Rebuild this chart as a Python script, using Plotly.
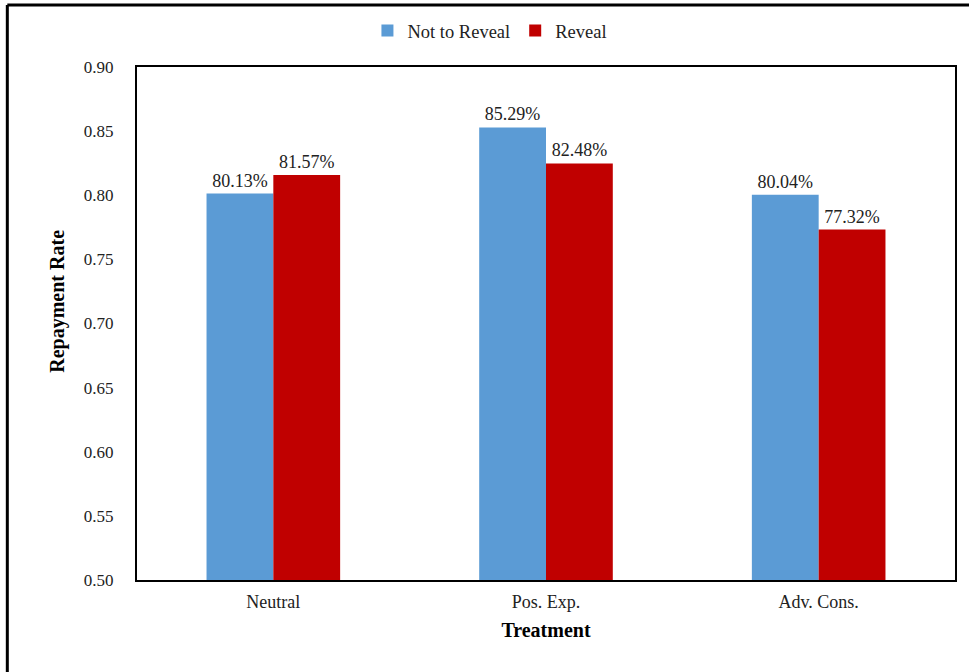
import plotly.graph_objects as go

treatments = ["Neutral", "Pos. Exp.", "Adv. Cons."]
not_reveal = [0.8013, 0.8529, 0.8004]
reveal = [0.8157, 0.8248, 0.7732]
series_names = ["Not to Reveal", "Reveal"]
y_ticks = [0.50, 0.55, 0.60, 0.65, 0.70, 0.75, 0.80, 0.85, 0.90]

FONT = "Liberation Serif"
W, H = 969, 672
ML, MR, MT, MB = 137, 12, 66, 92
PW, PH = W - ML - MR, H - MT - MB


def px_to_paper_x(px):
    return (px - ML) / PW


def px_to_paper_y(py):
    return 1 - (py - MT) / PH


fig = go.Figure()
for name, vals, color in [(series_names[0], not_reveal, "#5B9BD5"),
                          (series_names[1], reveal, "#C00000")]:
    fig.add_trace(go.Bar(
        x=treatments, y=vals, name=name,
        marker=dict(color=color, line=dict(width=0)),
        text=[f"{v * 100:.2f}%" for v in vals],
        textposition="outside",
        textfont=dict(family=FONT, size=18, color="#222"),
        cliponaxis=False,
    ))

fig.update_layout(
    width=W, height=H,
    margin=dict(l=ML, r=MR, t=MT, b=MB),
    paper_bgcolor="white", plot_bgcolor="white",
    barmode="group", bargap=0.51, bargroupgap=0,
    font=dict(family=FONT, size=17, color="#222"),
    legend=dict(
        orientation="h", x=px_to_paper_x(368), xanchor="left",
        y=px_to_paper_y(30), yanchor="middle",
        font=dict(family=FONT, size=18.5, color="#222"),
        itemwidth=30, tracegroupgap=0,
    ),
    xaxis=dict(
        showline=True, linecolor="black", linewidth=2, mirror=True,
        showgrid=False, ticks="", ticklabelstandoff=4,
        title=dict(text="<b>Treatment</b>", font=dict(family=FONT, size=20, color="black"), standoff=12),
        tickfont=dict(family=FONT, size=18, color="#222"),
    ),
    yaxis=dict(
        range=[0.5, 0.9], tickvals=y_ticks,
        ticktext=[f"{t:.2f}" for t in y_ticks],
        showline=True, linecolor="black", linewidth=2, mirror=True,
        showgrid=False, zeroline=False, ticks="", ticklabelstandoff=18,
        tickfont=dict(family=FONT, size=17, color="#222"),
    ),
    annotations=[
        dict(text="<b>Repayment Rate</b>", textangle=-90, showarrow=False,
             xref="paper", yref="paper",
             x=px_to_paper_x(57), y=px_to_paper_y(301),
             xanchor="center", yanchor="middle",
             font=dict(family=FONT, size=20, color="black")),
    ],
    shapes=[
        dict(type="line", xref="paper", yref="paper",
             x0=px_to_paper_x(7), x1=px_to_paper_x(W + 5),
             y0=px_to_paper_y(4), y1=px_to_paper_y(4),
             line=dict(color="black", width=3)),
        dict(type="line", xref="paper", yref="paper",
             x0=px_to_paper_x(7), x1=px_to_paper_x(7),
             y0=px_to_paper_y(4), y1=px_to_paper_y(H + 5),
             line=dict(color="black", width=3)),
    ],
)

fig.write_html("out.html")
